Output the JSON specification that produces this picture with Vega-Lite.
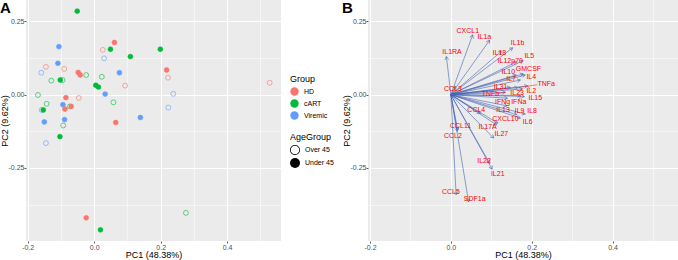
{
  "$schema": "https://vega.github.io/schema/vega-lite/v6.json",
  "padding": {"left": 0, "top": 0, "right": 0, "bottom": 0},
  "config": {
    "font": "Liberation Sans",
    "view": {"fill": "#EBEBEB", "stroke": null},
    "axis": {
      "domain": false, "tickColor": "#333333", "tickSize": 2, "tickWidth": 0.8,
      "labelFontSize": 7, "labelColor": "#4D4D4D", "labelPadding": 0.5,
      "titleFontSize": 9, "titleFontWeight": "normal", "titleColor": "black", "titlePadding": 0,
      "gridColor": "white"
    },
    "axisY": {"labelPadding": 0, "titlePadding": -1},
    "legend": {"titleFontSize": 9, "titleFontWeight": "normal", "titleColor": "black", "labelFontSize": 7, "labelColor": "black", "titlePadding": 3, "rowPadding": 3, "labelOffset": 5},
    "title": {"anchor": "start", "frame": "bounds", "fontSize": 15, "fontWeight": "bold", "offset": -16, "color": "black"}
  },
  "datasets": {
    "scores": [
      {"Group": "cART", "AgeGroup": "Under 45", "PC1": -0.051, "PC2": 0.285},
      {"Group": "Viremic", "AgeGroup": "Under 45", "PC1": -0.106, "PC2": 0.164},
      {"Group": "HD", "AgeGroup": "Under 45", "PC1": 0.061, "PC2": 0.178},
      {"Group": "HD", "AgeGroup": "Over 45", "PC1": 0.026, "PC2": 0.153},
      {"Group": "cART", "AgeGroup": "Under 45", "PC1": 0.049, "PC2": 0.155},
      {"Group": "Viremic", "AgeGroup": "Over 45", "PC1": 0.030, "PC2": 0.124},
      {"Group": "cART", "AgeGroup": "Under 45", "PC1": 0.109, "PC2": 0.130},
      {"Group": "cART", "AgeGroup": "Under 45", "PC1": 0.199, "PC2": 0.155},
      {"Group": "Viremic", "AgeGroup": "Under 45", "PC1": -0.109, "PC2": 0.107},
      {"Group": "HD", "AgeGroup": "Over 45", "PC1": -0.145, "PC2": 0.095},
      {"Group": "Viremic", "AgeGroup": "Over 45", "PC1": -0.159, "PC2": 0.075},
      {"Group": "HD", "AgeGroup": "Over 45", "PC1": -0.090, "PC2": 0.088},
      {"Group": "HD", "AgeGroup": "Under 45", "PC1": -0.048, "PC2": 0.076},
      {"Group": "HD", "AgeGroup": "Under 45", "PC1": -0.042, "PC2": 0.067},
      {"Group": "cART", "AgeGroup": "Over 45", "PC1": -0.024, "PC2": 0.067},
      {"Group": "Viremic", "AgeGroup": "Under 45", "PC1": 0.076, "PC2": 0.075},
      {"Group": "HD", "AgeGroup": "Under 45", "PC1": 0.218, "PC2": 0.084},
      {"Group": "HD", "AgeGroup": "Over 45", "PC1": 0.222, "PC2": 0.058},
      {"Group": "cART", "AgeGroup": "Over 45", "PC1": -0.129, "PC2": 0.048},
      {"Group": "cART", "AgeGroup": "Under 45", "PC1": -0.102, "PC2": 0.050},
      {"Group": "cART", "AgeGroup": "Over 45", "PC1": -0.095, "PC2": 0.050},
      {"Group": "cART", "AgeGroup": "Over 45", "PC1": 0.023, "PC2": 0.061},
      {"Group": "cART", "AgeGroup": "Under 45", "PC1": 0.005, "PC2": 0.032},
      {"Group": "cART", "AgeGroup": "Under 45", "PC1": 0.013, "PC2": 0.026},
      {"Group": "HD", "AgeGroup": "Over 45", "PC1": 0.093, "PC2": 0.031},
      {"Group": "cART", "AgeGroup": "Over 45", "PC1": -0.169, "PC2": -0.001},
      {"Group": "Viremic", "AgeGroup": "Under 45", "PC1": 0.033, "PC2": 0.002},
      {"Group": "Viremic", "AgeGroup": "Over 45", "PC1": 0.238, "PC2": 0.003},
      {"Group": "HD", "AgeGroup": "Under 45", "PC1": -0.085, "PC2": -0.010},
      {"Group": "HD", "AgeGroup": "Over 45", "PC1": -0.046, "PC2": -0.011},
      {"Group": "cART", "AgeGroup": "Over 45", "PC1": -0.143, "PC2": -0.031},
      {"Group": "cART", "AgeGroup": "Over 45", "PC1": 0.058, "PC2": -0.026},
      {"Group": "Viremic", "AgeGroup": "Under 45", "PC1": -0.094, "PC2": -0.034},
      {"Group": "Viremic", "AgeGroup": "Over 45", "PC1": 0.223, "PC2": -0.044},
      {"Group": "HD", "AgeGroup": "Under 45", "PC1": -0.088, "PC2": -0.049},
      {"Group": "cART", "AgeGroup": "Over 45", "PC1": -0.073, "PC2": -0.040},
      {"Group": "HD", "AgeGroup": "Under 45", "PC1": -0.069, "PC2": -0.040},
      {"Group": "Viremic", "AgeGroup": "Over 45", "PC1": -0.158, "PC2": -0.052},
      {"Group": "cART", "AgeGroup": "Under 45", "PC1": -0.153, "PC2": -0.052},
      {"Group": "Viremic", "AgeGroup": "Under 45", "PC1": -0.089, "PC2": -0.085},
      {"Group": "Viremic", "AgeGroup": "Under 45", "PC1": -0.150, "PC2": -0.093},
      {"Group": "HD", "AgeGroup": "Under 45", "PC1": 0.065, "PC2": -0.095},
      {"Group": "Viremic", "AgeGroup": "Under 45", "PC1": 0.139, "PC2": -0.078},
      {"Group": "cART", "AgeGroup": "Over 45", "PC1": -0.093, "PC2": -0.105},
      {"Group": "cART", "AgeGroup": "Under 45", "PC1": -0.103, "PC2": -0.143},
      {"Group": "Viremic", "AgeGroup": "Over 45", "PC1": -0.145, "PC2": -0.165},
      {"Group": "HD", "AgeGroup": "Under 45", "PC1": -0.024, "PC2": -0.420},
      {"Group": "cART", "AgeGroup": "Under 45", "PC1": 0.019, "PC2": -0.461},
      {"Group": "cART", "AgeGroup": "Over 45", "PC1": 0.276, "PC2": -0.403},
      {"Group": "HD", "AgeGroup": "Over 45", "PC1": 0.528, "PC2": 0.041}
    ],
    "loadings": [
      {"var": "CXCL1", "x": 0.054, "y": 0.204, "lx": 0.042, "ly": 0.218},
      {"var": "IL1a", "x": 0.096, "y": 0.186, "lx": 0.083, "ly": 0.196},
      {"var": "IL1b", "x": 0.153, "y": 0.160, "lx": 0.165, "ly": 0.176},
      {"var": "IL18", "x": 0.125, "y": 0.148, "lx": 0.120, "ly": 0.142},
      {"var": "IL1RA", "x": -0.011, "y": 0.130, "lx": 0.003, "ly": 0.147},
      {"var": "IL12p70", "x": 0.162, "y": 0.112, "lx": 0.147, "ly": 0.116},
      {"var": "IL5", "x": 0.179, "y": 0.116, "lx": 0.194, "ly": 0.131},
      {"var": "IL10", "x": 0.162, "y": 0.067, "lx": 0.142, "ly": 0.079},
      {"var": "GMCSF", "x": 0.179, "y": 0.071, "lx": 0.192, "ly": 0.088},
      {"var": "IL7", "x": 0.172, "y": 0.050, "lx": 0.149, "ly": 0.054},
      {"var": "IL4", "x": 0.184, "y": 0.067, "lx": 0.199, "ly": 0.061},
      {"var": "TNFa", "x": 0.165, "y": 0.024, "lx": 0.236, "ly": 0.036, "sx": 0.214, "sy": 0.034},
      {"var": "IL31", "x": 0.147, "y": 0.025, "lx": 0.123, "ly": 0.027},
      {"var": "IL23", "x": 0.177, "y": 0.020, "lx": 0.164, "ly": 0.006, "sx": 0.170, "sy": 0.013},
      {"var": "IL2", "x": 0.190, "y": 0.030, "lx": 0.199, "ly": 0.014, "sx": 0.195, "sy": 0.021},
      {"var": "IL15", "x": 0.182, "y": -0.006, "lx": 0.209, "ly": -0.012},
      {"var": "TNFb", "x": 0.135, "y": 0.008, "lx": 0.098, "ly": 0.001, "sx": 0.114, "sy": 0.004},
      {"var": "IFNg", "x": 0.140, "y": -0.012, "lx": 0.128, "ly": -0.024},
      {"var": "IFNa", "x": 0.172, "y": -0.003, "lx": 0.168, "ly": -0.024, "sx": 0.170, "sy": -0.017},
      {"var": "IL13", "x": 0.139, "y": -0.038, "lx": 0.129, "ly": -0.052},
      {"var": "IL9", "x": 0.163, "y": -0.068, "lx": 0.170, "ly": -0.056},
      {"var": "IL8", "x": 0.184, "y": -0.066, "lx": 0.201, "ly": -0.055},
      {"var": "IL6", "x": 0.172, "y": -0.080, "lx": 0.190, "ly": -0.094},
      {"var": "CXCL10", "x": 0.116, "y": -0.097, "lx": 0.135, "ly": -0.083},
      {"var": "IL17A", "x": 0.113, "y": -0.103, "lx": 0.091, "ly": -0.109},
      {"var": "CCL4", "x": 0.073, "y": -0.064, "lx": 0.063, "ly": -0.052},
      {"var": "IL27", "x": 0.106, "y": -0.148, "lx": 0.125, "ly": -0.135},
      {"var": "CCL11", "x": 0.017, "y": -0.120, "lx": 0.024, "ly": -0.107},
      {"var": "CCL2", "x": 0.016, "y": -0.125, "lx": 0.005, "ly": -0.140},
      {"var": "CCL3", "x": 0.012, "y": 0.029, "lx": 0.005, "ly": 0.019},
      {"var": "IL22", "x": 0.096, "y": -0.234, "lx": 0.082, "ly": -0.225},
      {"var": "IL21", "x": 0.102, "y": -0.254, "lx": 0.116, "ly": -0.270},
      {"var": "CCL5", "x": 0.013, "y": -0.341, "lx": 0.000, "ly": -0.331},
      {"var": "SDF1a", "x": 0.044, "y": -0.366, "lx": 0.059, "ly": -0.356}
    ]
  },
  "spacing": 8,
  "resolve": {"scale": {"x": "independent", "y": "independent"}, "legend": {"fill": "independent", "shape": "independent"}},
  "hconcat": [
    {
      "title": {"text": "A"},
      "width": 255,
      "height": 241,
      "data": {"name": "scores"},
      "encoding": {
        "x": {"field": "PC1", "type": "quantitative", "title": "PC1 (48.38%)",
          "scale": {"domain": [-0.205, 0.562], "nice": false, "zero": false},
          "axis": {"values": [-0.2, -0.1, 0, 0.1, 0.2, 0.3, 0.4, 0.5],
            "labelExpr": "abs(round(datum.value*10))%2==0 ? (datum.value<0?'-':'')+format(abs(datum.value),'.1f') : ''",
            "gridWidth": {"condition": {"test": "abs(round(datum.value*10))%2==0", "value": 1}, "value": 0.5},
            "tickOpacity": {"condition": {"test": "abs(round(datum.value*10))%2==0", "value": 1}, "value": 0}}},
        "y": {"field": "PC2", "type": "quantitative", "title": "PC2 (9.62%)",
          "scale": {"domain": [-0.499, 0.323], "nice": false, "zero": false},
          "axis": {"values": [-0.375, -0.25, -0.125, 0, 0.125, 0.25],
            "labelExpr": "abs(round(datum.value*8))%2==0 ? (datum.value<0?'-':'')+format(abs(datum.value),'.2f') : ''",
            "gridWidth": {"condition": {"test": "abs(round(datum.value*8))%2==0", "value": 1}, "value": 0.5},
            "tickOpacity": {"condition": {"test": "abs(round(datum.value*8))%2==0", "value": 1}, "value": 0}}}
      },
      "layer": [
        {
          "mark": {"type": "point", "filled": true, "size": 70, "opacity": 0, "color": "black"},
          "encoding": {
            "shape": {"field": "AgeGroup", "type": "nominal",
              "scale": {"domain": ["Over 45", "Under 45"], "range": ["M1,0A1,1 0 1,0 -1,0A1,1 0 1,0 1,0Z M0.85,0A0.85,0.85 0 1,1 -0.85,0A0.85,0.85 0 1,1 0.85,0Z", "circle"]},
              "legend": {"title": "AgeGroup", "orient": "none", "legendX": 264, "legendY": 133, "symbolOpacity": 1, "symbolFillColor": "#222222", "symbolStrokeWidth": 0}}
          }
        },
        {
          "mark": {"type": "point", "filled": true, "size": 24, "strokeWidth": 0.6, "opacity": 1},
          "encoding": {
            "fill": {"field": "Group", "type": "nominal",
              "scale": {"domain": ["HD", "cART", "Viremic"], "range": ["#F8766D", "#00BA38", "#619CFF"]},
              "legend": {"title": "Group", "orient": "none", "legendX": 264, "legendY": 75, "symbolType": "circle", "symbolSize": 70, "symbolStrokeWidth": 0, "symbolOpacity": 1}},
            "stroke": {"field": "Group", "type": "nominal",
              "scale": {"domain": ["HD", "cART", "Viremic"], "range": ["#F8766D", "#00BA38", "#619CFF"]},
              "legend": null},
            "fillOpacity": {"field": "AgeGroup", "type": "nominal",
              "scale": {"type": "ordinal", "domain": ["Over 45", "Under 45"], "range": [0, 1]},
              "legend": null}
          }
        }
      ]
    },
    {
      "title": {"text": "B"},
      "width": 310,
      "height": 241,
      "data": {"name": "loadings"},
      "encoding": {
        "x": {"field": "x", "type": "quantitative", "title": "PC1 (48.38%)",
          "scale": {"domain": [-0.205, 0.562], "nice": false, "zero": false},
          "axis": {"values": [-0.2, -0.1, 0, 0.1, 0.2, 0.3, 0.4, 0.5],
            "labelExpr": "abs(round(datum.value*10))%2==0 ? (datum.value<0?'-':'')+format(abs(datum.value),'.1f') : ''",
            "gridWidth": {"condition": {"test": "abs(round(datum.value*10))%2==0", "value": 1}, "value": 0.5},
            "tickOpacity": {"condition": {"test": "abs(round(datum.value*10))%2==0", "value": 1}, "value": 0}}},
        "y": {"field": "y", "type": "quantitative", "title": "PC2 (9.62%)",
          "scale": {"domain": [-0.499, 0.323], "nice": false, "zero": false},
          "axis": {"values": [-0.375, -0.25, -0.125, 0, 0.125, 0.25],
            "labelExpr": "abs(round(datum.value*8))%2==0 ? (datum.value<0?'-':'')+format(abs(datum.value),'.2f') : ''",
            "gridWidth": {"condition": {"test": "abs(round(datum.value*8))%2==0", "value": 1}, "value": 0.5},
            "tickOpacity": {"condition": {"test": "abs(round(datum.value*8))%2==0", "value": 1}, "value": 0}}}
      },
      "layer": [
        {
          "mark": {"type": "rule", "color": "#4563B1", "strokeWidth": 0.6},
          "encoding": {"x2": {"datum": 0}, "y2": {"datum": 0}}
        },
        {
          "transform": [{"calculate": "atan2(-datum.y*293.2, datum.x*404.2)*180/PI", "as": "ang"}],
          "mark": {"type": "point", "shape": "M-1,-0.577L0,0L-1,0.577", "filled": false, "size": 40, "stroke": "#4563B1", "strokeWidth": 0.6, "opacity": 1},
          "encoding": {"angle": {"field": "ang", "type": "quantitative", "scale": null}}
        },
        {
          "transform": [{"filter": "isValid(datum.sx)"}],
          "mark": {"type": "rule", "color": "red", "strokeWidth": 0.5},
          "encoding": {"x2": {"field": "sx"}, "y2": {"field": "sy"}}
        },
        {
          "mark": {"type": "text", "color": "red", "fontSize": 7, "align": "center", "baseline": "middle"},
          "encoding": {
            "x": {"field": "lx", "type": "quantitative", "title": "PC1 (48.38%)", "scale": {"domain": [-0.205, 0.562], "nice": false, "zero": false}},
            "y": {"field": "ly", "type": "quantitative", "title": "PC2 (9.62%)", "scale": {"domain": [-0.499, 0.323], "nice": false, "zero": false}},
            "text": {"field": "var"}
          }
        }
      ]
    }
  ]
}
